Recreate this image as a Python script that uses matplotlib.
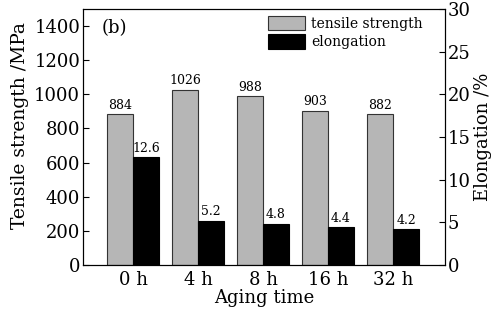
import matplotlib
matplotlib.use("Agg")
import matplotlib.pyplot as plt
import numpy as np

categories = ["0 h", "4 h", "8 h", "16 h", "32 h"]
tensile = [884, 1026, 988, 903, 882]
elong = [12.6, 5.2, 4.8, 4.4, 4.2]
tensile_labels = ["884", "1026", "988", "903", "882"]
elong_labels = ["12.6", "5.2", "4.8", "4.4", "4.2"]

plt.rcParams['font.family'] = ['DejaVu Serif']
plt.rcParams['mathtext.fontset'] = 'dejavuserif'

fig = plt.figure(figsize=(4.99, 3.2), dpi=100)
ax = fig.add_axes([83/499, 1-265/320, (445-83)/499, (265-9)/320])
ax2 = ax.twinx()

x = np.arange(len(categories))
w = 0.4
ax.bar(x - w/2, tensile, w, color='#b6b6b6', edgecolor='#333333', linewidth=0.8, label='tensile strength')
ax2.bar(x + w/2, elong, w, color='black', edgecolor='black', linewidth=0.8, label='elongation')

for xi, v, s in zip(x, tensile, tensile_labels):
    ax.text(xi - w/2, v + 15, s, ha='center', va='bottom', fontsize=9)
for xi, v, s in zip(x, elong, elong_labels):
    ax2.text(xi + w/2, v + 0.3, s, ha='center', va='bottom', fontsize=9)

ax.set_xlim(-0.77, 4.8)
ax.set_ylim(0, 1500)
ax2.set_ylim(0, 30)
ax.set_yticks(range(0, 1401, 200))
ax2.set_yticks(range(0, 31, 5))
ax.set_xticks(x)
ax.set_xticklabels(categories)
ax.tick_params(axis='x', length=0, labelsize=13, pad=4)
ax.tick_params(axis='y', direction='in', length=4.5, labelsize=13, pad=2)
ax2.tick_params(axis='y', direction='in', length=4.5, labelsize=13, pad=2)

ax.set_xlabel("Aging time", fontsize=13, labelpad=0)
ax.set_ylabel("Tensile strength /MPa", fontsize=13.5)
ax.yaxis.set_label_coords(-0.15, 0.545)
ax2.set_ylabel("Elongation /%", fontsize=13, labelpad=2)

ax.text(0.052, 0.96, "(b)", transform=ax.transAxes, ha='left', va='top', fontsize=13)

h1, l1 = ax.get_legend_handles_labels()
h2, l2 = ax2.get_legend_handles_labels()
ax2.legend(h1 + h2, l1 + l2, loc='upper left', bbox_to_anchor=((268-83)/362, (265-16)/256),
           frameon=False, fontsize=10, borderpad=0, borderaxespad=0,
           handlelength=2.66, handleheight=1.22, labelspacing=0.25,
           handletextpad=0.45)

fig.savefig("out.png", dpi=100)
